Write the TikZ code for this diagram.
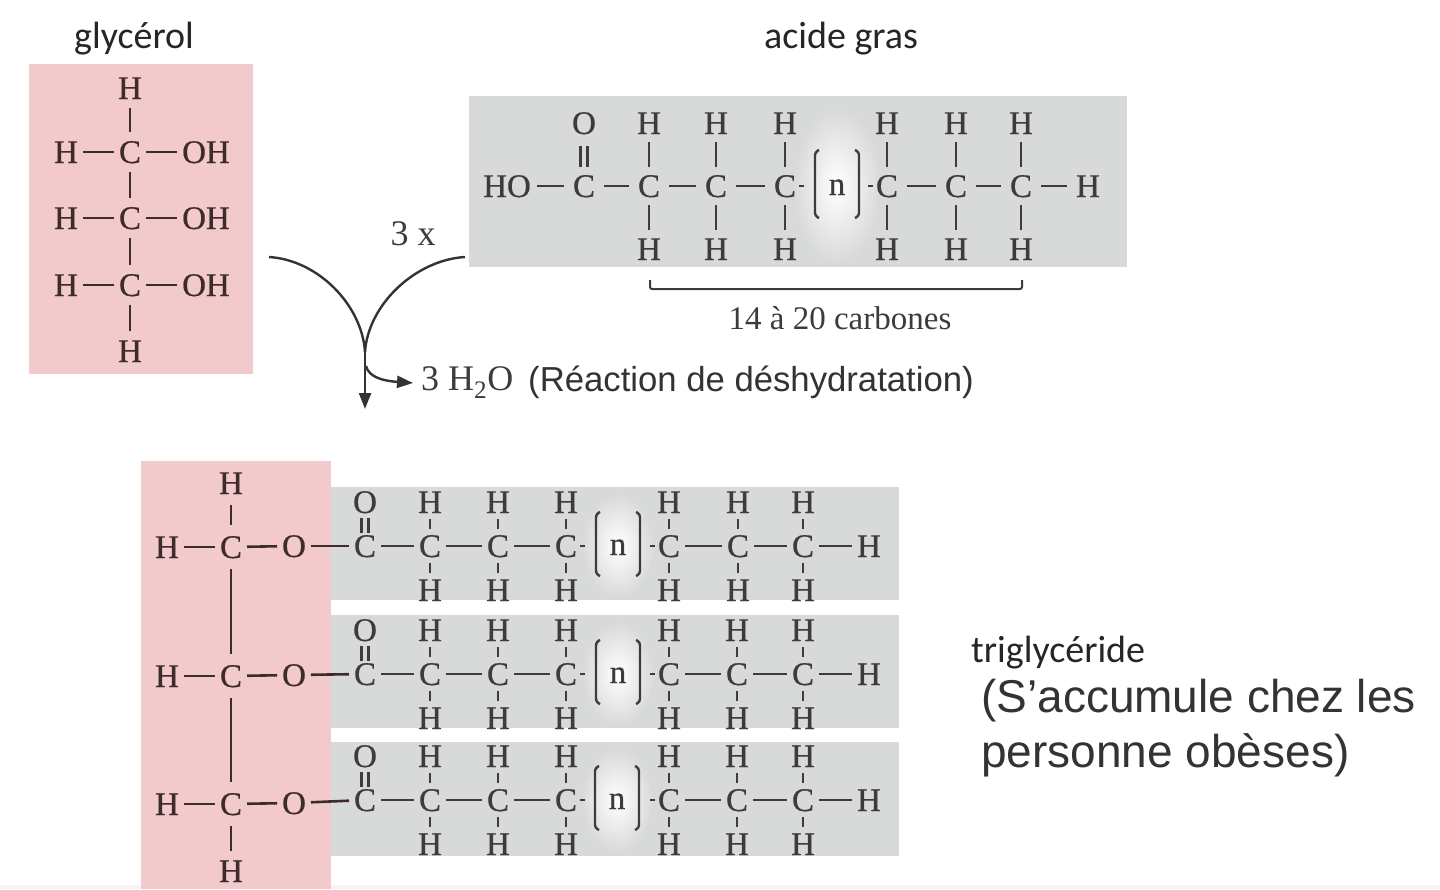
\documentclass[tikz,border=0pt]{standalone}
\usepackage{fontspec}
\setmainfont{Liberation Serif}
\newfontfamily\calib{Carlito}
\newfontfamily\arial{Liberation Sans}
\newfontfamily\atomf[FakeBold=0.6]{Liberation Serif}
\usetikzlibrary{arrows.meta,calc}
\definecolor{pinkbox}{HTML}{F2CACB}
\definecolor{greybox}{HTML}{D8D9D9}
\definecolor{ink}{HTML}{3C3C3C}
\definecolor{brownink}{HTML}{3E2C2C}
\def\axs{5pt}
\tikzset{
  atom/.style={font=\atomf\fontsize{33}{33}\selectfont,text=ink,inner xsep=\axs,inner ysep=#1,text height=22pt,text depth=0pt,outer sep=0pt},
  atom/.default=5pt,
  patom/.style={atom=#1,text=brownink},
  patom/.default=5pt,
  bond/.style={draw=ink,line width=2.6pt},
  pbond/.style={draw=brownink,line width=2.6pt},
  brack/.style={draw=ink,line width=2.4pt,rounded corners=3pt},
  curve/.style={draw=black!80,line width=2.4pt},
  sanslabel/.style={font=\calib\fontsize{38}{38}\selectfont,text=black!85,inner sep=0pt},
  seriflabel/.style={font=\fontsize{36}{36}\selectfont,text=ink,inner sep=0pt},
  aflabel/.style={font=\arial\fontsize{34.7}{34.7}\selectfont,text=black!80,inner sep=0pt},
  alabel/.style={font=\arial\fontsize{46}{55}\selectfont,text=black!80,inner sep=0pt,align=left},
  tip/.style={-{Triangle[length=16pt,width=12pt]}},
}
% #1 prefix, #2 y of the chain, #3 vertical distance C-H, #4 atom ysep,
% #5 half width glow, #6 half height glow, #7 half height bracket
% #8 list index/x ; #9 x of n
\newcommand\fattychain[9]{%
  \shade[inner color=white,outer color=greybox] (#9,#2) ellipse [x radius=#5,y radius=#6];
  \foreach \i/\x in {#8}{%
    \node[atom=#4] (#1c\i) at (\x,#2) {C};
    \node[atom=#4] (#1t\i) at (\x,#2-#3) {\ifnum\i=0 O\else H\fi};
    \ifnum\i=0\else
      \node[atom=#4] (#1b\i) at (\x,#2+#3) {H};
      \draw[bond] (#1c\i) -- (#1t\i);
      \draw[bond] (#1c\i) -- (#1b\i);
    \fi
  }
  \draw[bond] ($(#1t0.center)+(-3.6,0.36*#3)$) -- ($(#1c0.center)+(-3.6,-0.3*#3)$);
  \draw[bond] ($(#1t0.center)+(3.6,0.36*#3)$) -- ($(#1c0.center)+(3.6,-0.3*#3)$);
  \draw[bond] (#1c0) -- (#1c1);
  \draw[bond] (#1c1) -- (#1c2);
  \draw[bond] (#1c2) -- (#1c3);
  \draw[bond] (#1c4) -- (#1c5);
  \draw[bond] (#1c5) -- (#1c6);
  \node[atom=#4] (#1n) at (#9,#2-2) {n};
  \coordinate (#1bl) at ($(#1n.center)+(-22,0)$);
  \coordinate (#1br) at ($(#1n.center)+(22,0)$);
  \draw[brack] ($(#1bl)+(4,-#7)$) -- ($(#1bl)+(0,-#7+2)$) -- ($(#1bl)+(0,#7-2)$) -- ($(#1bl)+(4,#7)$);
  \draw[brack] ($(#1br)+(-4,-#7)$) -- ($(#1br)+(0,-#7+2)$) -- ($(#1br)+(0,#7-2)$) -- ($(#1br)+(-4,#7)$);
  \draw[bond] ($(#1c3.center)+(14,0)$) -- ($(#1c3.center)+(19,0)$);
  \draw[bond] ($(#1c4.center)+(-19,0)$) -- ($(#1c4.center)+(-14,0)$);
}
\begin{document}
\begin{tikzpicture}[x=1pt,y=-1pt]
\useasboundingbox (0,0) rectangle (1440,889);
\fill[white] (0,0) rectangle (1440,889);
\fill[black!4] (0,885) rectangle (1440,889);
% boxes
\fill[pinkbox] (29,64) rectangle (253,374);
\fill[greybox] (469,96) rectangle (1127,267);
\fill[greybox] (331,487) rectangle (899,600);
\fill[greybox] (331,615) rectangle (899,728);
\fill[greybox] (331,742) rectangle (899,856);
\fill[pinkbox] (141,461) rectangle (331,889);
% labels
\node[sanslabel] (lgly) at (134,39) {glycérol};
\node[sanslabel] (laci) at (841,39) {acide gras};
\node[seriflabel] (l3x) at (413,234) {3 x};
\node[seriflabel,font=\fontsize{33}{33}\selectfont] (lcarb) at (840,318) {14 à 20 carbones};
% glycerol
\foreach \k/\y in {1/152,2/218,3/285}{
  \node[patom=9pt] (gc\k) at (130,\y) {C};
  \node[patom=9pt] (gh\k) at (66,\y) {H};
  \node[patom=9pt] (go\k) at (206,\y) {OH};
  \draw[pbond] (gh\k) -- (gc\k);
  \draw[pbond] (gc\k) -- (go\k);
}
\node[patom=9pt] (gtop) at (130,88) {H};
\node[patom=9pt] (gbot) at (130,351) {H};
\draw[pbond] (gtop) -- (gc1);
\draw[pbond] (gc1) -- (gc2);
\draw[pbond] (gc2) -- (gc3);
\draw[pbond] (gc3) -- (gbot);
% fatty acid
\def\axs{9pt}
\fattychain{a}{186}{63}{8pt}{44}{78}{34}{0/584,1/649,2/716,3/785,4/887,5/956,6/1021}{837}
\node[atom=8pt,inner xsep=6pt] (aho) at (507,186) {HO};
\node[atom=8pt] (ah) at (1088,186) {H};
\draw[bond] (aho) -- (ac0);
\draw[bond] (ac6) -- (ah);
\coordinate (bra1) at (650,280);
\coordinate (bra2) at (1022,280);
\draw[brack,rounded corners=2pt,line width=2pt] (bra1) -- ++(0,9) -- ($(bra2)+(0,9)$) -- (bra2);
% triglyceride
\def\axs{5pt}
\fattychain{r}{546}{44}{6pt}{36}{52}{32}{0/365,1/430,2/498,3/566,4/669,5/738,6/803}{618}
\fattychain{s}{674}{44}{6pt}{36}{52}{32}{0/365,1/430,2/498,3/566,4/669,5/737,6/803}{618}
\fattychain{u}{800}{44}{6pt}{36}{52}{32}{0/365,1/430,2/498,3/566,4/669,5/737,6/803}{617}
\node[atom=6pt] (rh) at (869,546) {H};
\node[atom=6pt] (sh) at (869,674) {H};
\node[atom=6pt] (uh) at (869,800) {H};
\draw[bond] (rc6) -- (rh);
\draw[bond] (sc6) -- (sh);
\draw[bond] (uc6) -- (uh);
\foreach \p/\y in {r/547,s/676,u/804}{
  \node[patom=11pt] (\p gc) at (231,\y) {C};
  \node[patom=11pt] (\p gh) at (167,\y) {H};
  \node[patom=11pt] (\p go) at (294,\y-1) {O};
  \draw[pbond] (\p gh) -- (\p gc);
  \draw[pbond] (\p gc) -- (\p go);
  \draw[pbond] (\p go) -- (\p c0);
}
\node[patom=11pt] (ttop) at (231,483) {H};
\node[patom=9pt] (tbot) at (231,871) {H};
\draw[pbond] (ttop) -- (rgc);
\draw[pbond] (rgc) -- (sgc);
\draw[pbond] (sgc) -- (ugc);
\draw[pbond] (ugc) -- (tbot);
% reaction arrows
\coordinate (from1) at (269,257);
\coordinate (from2) at (465,257);
\coordinate (merge) at (365,352);
\coordinate (branch) at (366,366);
\coordinate (down) at (365,409);
\node[seriflabel,anchor=west] (water) at (421,383) {3 H\textsubscript{2}O};
\node[aflabel,anchor=west] (react) at (528,382) {(Réaction de déshydratation)};
\draw[curve] (from1) .. controls (318,260) and (362,305) .. (merge);
\draw[curve] (from2) .. controls (415,260) and (368,305) .. (merge);
\draw[curve,tip] (merge) -- (down);
\draw[curve,tip] (branch) .. controls (369,378) and (385,381) .. ([xshift=-8pt]water.west);
% right text
\node[sanslabel,anchor=west] (ltri) at (971,653) {triglycéride};
\node[alabel,anchor=north west] (lob) at (981,679) {(S’accumule chez les\\personne obèses)};
\end{tikzpicture}
\end{document}
